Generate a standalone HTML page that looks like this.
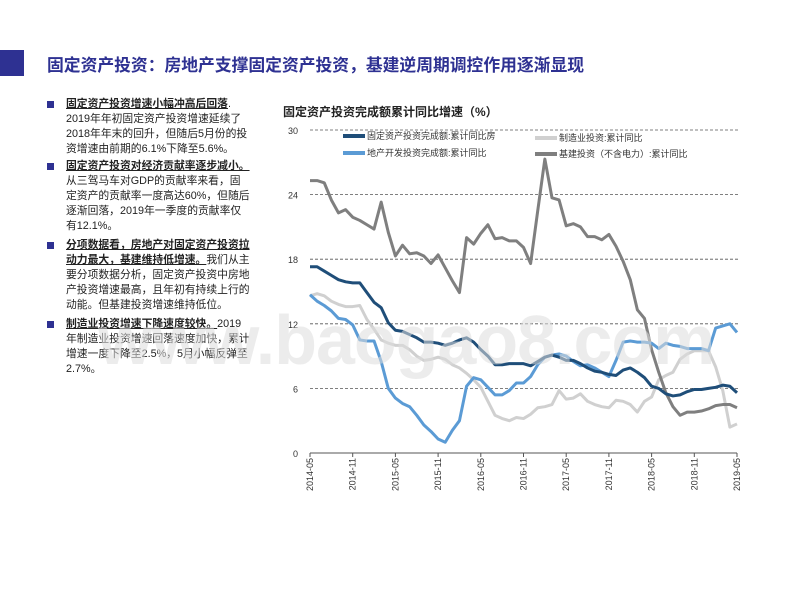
<!DOCTYPE html>
<html><head><meta charset="utf-8">
<style>
body{margin:0;width:800px;height:600px;background:#fff;position:relative;overflow:hidden;font-family:"Liberation Sans","Noto Sans CJK SC",sans-serif;}
.sq{position:absolute;left:0;top:50px;width:24px;height:26px;background:#2e3192;}
.title{position:absolute;left:47px;top:52px;font-size:16.8px;font-weight:bold;color:#2e3192;white-space:nowrap;}
.bul{position:absolute;left:66px;font-size:10.8px;line-height:15px;color:#222;white-space:nowrap;}
.bul b{text-decoration:underline;font-weight:bold;}
.bul:before{content:"";position:absolute;left:-19px;top:4px;width:7px;height:7px;background:#2e3192;}
.ctitle{position:absolute;left:283px;top:103px;font-size:12px;font-weight:bold;color:#222;}
svg{position:absolute;left:0;top:0;}
.wm{position:absolute;left:98px;top:300px;font-size:70px;font-weight:bold;font-family:"Liberation Sans",sans-serif;color:rgba(220,220,220,0.55);white-space:nowrap;letter-spacing:-1px;}
</style></head><body>
<div class="sq"></div>
<div class="title">固定资产投资：房地产支撑固定资产投资，基建逆周期调控作用逐渐显现</div>
<div class="bul" style="top:97px"><b>固定资产投资增速小幅冲高后回落</b>.<br>2019年年初固定资产投资增速延续了<br>2018年年末的回升，但随后5月份的投<br>资增速由前期的6.1%下降至5.6%。</div>
<div class="bul" style="top:159px"><b>固定资产投资对经济贡献率逐步减小。</b><br>从三驾马车对GDP的贡献率来看，固<br>定资产的贡献率一度高达60%，但随后<br>逐渐回落，2019年一季度的贡献率仅<br>有12.1%。</div>
<div class="bul" style="top:238px"><b>分项数据看，房地产对固定资产投资拉</b><br><b>动力最大，基建维持低增速。</b>我们从主<br>要分项数据分析，固定资产投资中房地<br>产投资增速最高，且年初有持续上行的<br>动能。但基建投资增速维持低位。</div>
<div class="bul" style="top:317px"><b>制造业投资增速下降速度较快。</b>2019<br>年制造业投资增速回落速度加快，累计<br>增速一度下降至2.5%，5月小幅反弹至<br>2.7%。</div>
<div class="ctitle">固定资产投资完成额累计同比增速（%）</div>
<svg id="chart" width="800" height="600"></svg>
<div class="wm">www.baogao8.com</div>
<script>
const yTicks=[0,6,12,18,24,30];
const xLabels=["2014-05","2014-11","2015-05","2015-11","2016-05","2016-11","2017-05","2017-11","2018-05","2018-11","2019-05"];
const seriesNames=["固定资产投资完成额:累计同比房","地产开发投资完成额:累计同比","制造业投资:累计同比","基建投资（不含电力）:累计同比"];
const fixedAsset=[17.3,17.3,16.9,16.5,16.1,15.9,15.8,15.8,14.9,14.0,13.5,12.1,11.4,11.3,11.0,10.7,10.3,10.3,10.2,10.0,10.2,10.5,10.7,10.3,9.6,9.0,8.2,8.2,8.3,8.3,8.3,8.1,8.5,8.9,9.1,8.9,8.6,8.6,8.3,7.9,7.6,7.5,7.3,7.2,7.7,7.9,7.5,7.0,6.2,6.0,5.5,5.3,5.4,5.7,5.9,5.9,6.0,6.1,6.3,6.2,5.6];
const realEstate=[14.7,14.1,13.7,13.2,12.5,12.4,11.9,10.5,10.4,10.4,8.5,6.0,5.1,4.6,4.3,3.5,2.6,2.0,1.3,1.0,2.1,3.0,6.2,7.0,6.8,6.1,5.4,5.4,5.8,6.5,6.5,7.1,8.2,8.9,9.1,9.2,9.0,8.5,8.1,8.2,7.9,7.5,7.1,8.6,10.3,10.4,10.3,10.3,10.2,9.7,10.2,10.0,9.9,9.7,9.7,9.7,9.5,11.6,11.8,12.0,11.2];
const manufacturing=[14.6,14.8,14.6,14.1,13.8,13.6,13.6,13.7,12.4,11.5,10.5,10.2,10.0,10.0,9.6,9.0,8.6,8.7,8.9,8.7,8.2,7.9,7.4,6.8,6.1,4.8,3.5,3.2,3.0,3.3,3.2,3.6,4.2,4.3,4.5,5.8,5.0,5.1,5.5,4.8,4.5,4.3,4.2,4.9,4.8,4.5,3.8,4.8,5.2,6.8,7.2,7.5,8.7,9.2,9.5,9.5,9.5,8.0,5.8,2.4,2.7];
const infra=[25.3,25.3,25.1,23.5,22.3,22.6,21.9,21.6,21.2,20.8,23.3,20.5,18.3,19.3,18.5,18.6,18.3,17.6,18.4,17.2,16.0,14.9,20.0,19.4,20.4,21.2,19.9,20.0,19.7,19.7,19.1,17.6,22.5,27.3,23.7,23.5,21.1,21.3,21.0,20.1,20.1,19.8,20.3,19.2,17.8,16.1,13.3,12.5,9.6,7.5,5.6,4.3,3.5,3.8,3.8,3.9,4.1,4.4,4.5,4.5,4.2];
const colors=["#1f4e79","#5b9bd5","#d0d0d0","#7f7f7f"];
const X0=310,X1=737,Y0=453,Y1=130,N=fixedAsset.length;
const sx=i=>X0+(X1-X0)*i/(N-1);
const sy=v=>Y0-(Y0-Y1)*v/30;
const svg=document.getElementById('chart');
const NS="http://www.w3.org/2000/svg";
function mk(t,a){const e=document.createElementNS(NS,t);for(const k in a)e.setAttribute(k,a[k]);svg.appendChild(e);return e;}
yTicks.forEach(v=>{
  if(v>0){const g=mk('line',{x1:X0,x2:740,y1:sy(v),y2:sy(v),stroke:'#555','stroke-width':0.8,'stroke-dasharray':'3,2'});
  
  }
  const t=mk('text',{x:298,y:sy(v)+4,'font-size':9,'text-anchor':'end',fill:'#333'});t.textContent=v;
  
  
});
const ax=mk('line',{x1:X0,x2:X1,y1:Y0,y2:Y0,stroke:'#555','stroke-width':1});


xLabels.forEach((l,k)=>{
  const x=sx(k*6);
  const tk=mk('line',{x1:x,x2:x,y1:Y0,y2:Y0+4,stroke:'#555'});
  
  
  const t=mk('text',{x:0,y:0,'font-size':9,'text-anchor':'end',fill:'#333',transform:`translate(${x+3},${Y0+5}) rotate(-90)`});
  t.textContent=l;
  
  
});
[[manufacturing,2],[infra,3],[realEstate,1],[fixedAsset,0]].forEach(([d,c])=>{
  const p=mk('polyline',{points:d.map((v,i)=>sx(i)+','+sy(v)).join(' '),fill:'none',stroke:colors[c],'stroke-width':3,'stroke-linejoin':'round'});
  
  
});
const leg=[[343,136],[343,153],[535,138],[535,154]];
leg.forEach(([x,y],i)=>{
  const r=mk('rect',{x:x,y:y-2,width:22,height:4,fill:colors[i]});
  
  
  const t=mk('text',{x:x+24,y:y+3,'font-size':9,fill:'#333'});t.textContent=seriesNames[i];
  
  
});
</script>
</body></html>
